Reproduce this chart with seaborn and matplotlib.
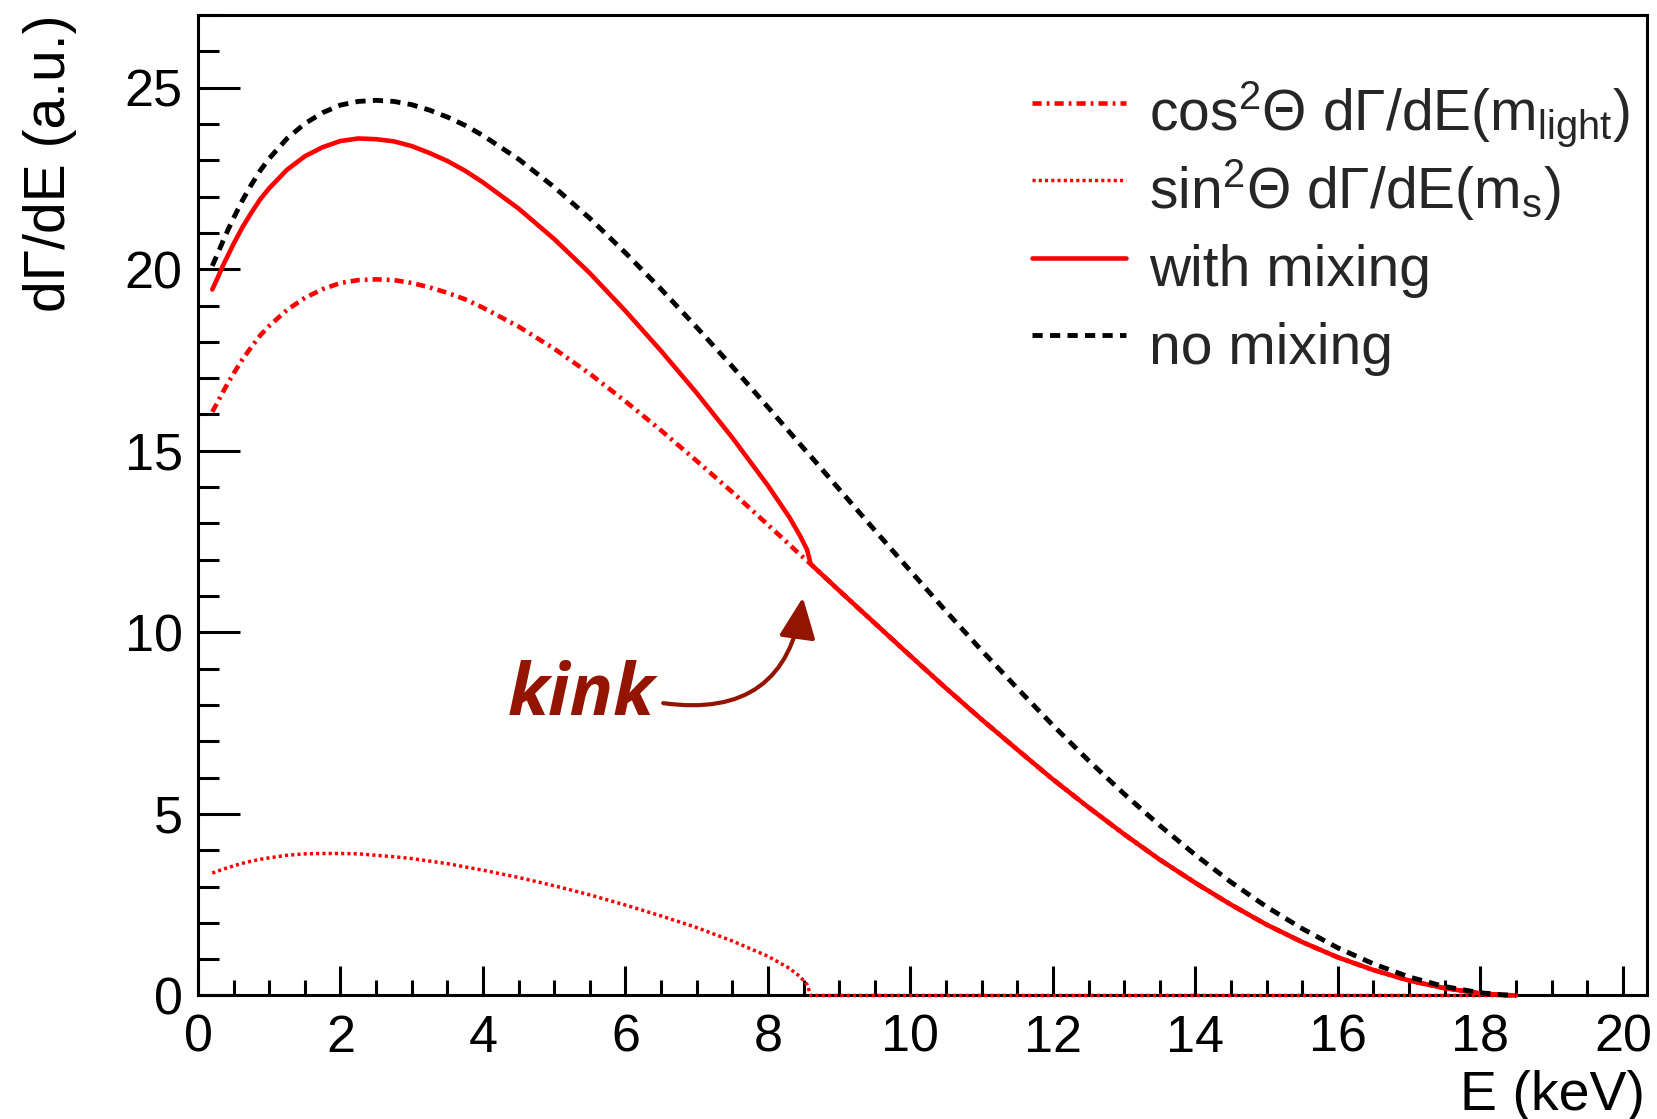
import matplotlib
matplotlib.use("Agg")
import matplotlib.pyplot as plt
import numpy as np
import pandas as pd
import seaborn as sns
from matplotlib.ticker import MultipleLocator

# ---------------- data ----------------
energy = [0.2, 0.275, 0.35, 0.425, 0.5, 0.625, 0.75, 0.875, 1.0,
          1.25, 1.5, 1.75, 2.0, 2.25, 2.5, 2.75, 3.0, 3.25, 3.5, 3.75, 4.0,
          4.5, 5.0, 5.5, 6.0, 6.5, 7.0, 7.5, 8.0,
          8.3, 8.45, 8.55, 8.6,
          9.0, 9.5, 10.0, 10.5, 11.0, 11.5, 12.0, 12.5, 13.0, 13.5, 14.0, 14.5,
          15.0, 15.5, 16.0, 16.5, 17.0, 17.5, 18.0,
          18.3, 18.5]

no_mixing = [20.09, 20.42, 20.77, 21.10, 21.41, 21.90, 22.33, 22.72, 23.05,
             23.60, 24.01, 24.31, 24.52, 24.62, 24.65, 24.62, 24.53, 24.38, 24.19, 23.96, 23.68,
             23.03, 22.26, 21.40, 20.45, 19.45, 18.40, 17.32, 16.20,
             15.52, 15.18, 14.96, 14.85,
             13.94, 12.81, 11.69, 10.58, 9.50, 8.46, 7.44, 6.47, 5.55, 4.68, 3.87, 3.12,
             2.44, 1.84, 1.31, 0.87, 0.51, 0.245, 0.074,
             0.019, 0.0]

cos2_light = [16.07, 16.34, 16.62, 16.88, 17.13, 17.52, 17.86, 18.18, 18.44,
              18.88, 19.21, 19.45, 19.62, 19.70, 19.72, 19.70, 19.62, 19.50, 19.35, 19.17, 18.94,
              18.42, 17.81, 17.12, 16.36, 15.56, 14.72, 13.86, 12.96,
              12.42, 12.14, 11.97, 11.88,
              11.15, 10.25, 9.35, 8.46, 7.60, 6.77, 5.95, 5.18, 4.44, 3.74, 3.10, 2.50,
              1.95, 1.47, 1.05, 0.70, 0.41, 0.20, 0.06,
              0.015, 0.0]

sin2_heavy = [3.37, 3.42, 3.48, 3.52, 3.57, 3.64, 3.70, 3.75, 3.79,
              3.86, 3.90, 3.91, 3.91, 3.90, 3.86, 3.82, 3.77, 3.70, 3.63, 3.54, 3.45,
              3.25, 3.02, 2.77, 2.49, 2.19, 1.87, 1.50, 1.08,
              0.75, 0.52, 0.30, 0.0,
              0.0, 0.0, 0.0, 0.0, 0.0, 0.0, 0.0, 0.0, 0.0, 0.0, 0.0, 0.0,
              0.0, 0.0, 0.0, 0.0, 0.0, 0.0, 0.0,
              0.0, 0.0]

with_mixing = [19.44, 19.76, 20.10, 20.40, 20.70, 21.16, 21.56, 21.93, 22.23,
               22.74, 23.11, 23.36, 23.53, 23.60, 23.58, 23.52, 23.39, 23.20, 22.98, 22.71, 22.39,
               21.67, 20.83, 19.89, 18.85, 17.75, 16.59, 15.36, 14.04,
               13.17, 12.66, 12.27, 11.88,
               11.15, 10.25, 9.35, 8.46, 7.60, 6.77, 5.95, 5.18, 4.44, 3.74, 3.10, 2.50,
               1.95, 1.47, 1.05, 0.70, 0.41, 0.20, 0.06,
               0.015, 0.0]

series_labels = [r"cos$^{2}$Θ dΓ/dE(m$_{\mathrm{light}}$)",
                 r"sin$^{2}$Θ dΓ/dE(m$_{\mathrm{s}}$)",
                 "with mixing",
                 "no mixing"]

x_ticks = [0, 2, 4, 6, 8, 10, 12, 14, 16, 18, 20]
y_ticks = [0, 5, 10, 15, 20, 25]
x_title = "E (keV)"
y_title = "dΓ/dE (a.u.)"
annotation_text = "kink"
kink_label_pos = (4.34, 7.72)
arrow_tail = (6.53, 8.05)
arrow_tip = (8.49, 10.96)

# ---------------- style ----------------
sns.set_style("ticks")
plt.rcParams["font.family"] = ["Liberation Sans", "DejaVu Sans"]
plt.rcParams["mathtext.fontset"] = "custom"
plt.rcParams["mathtext.rm"] = "Liberation Sans"
plt.rcParams["mathtext.it"] = "Liberation Sans:italic"
plt.rcParams["mathtext.bf"] = "Liberation Sans:bold"

RED = "#ff0000"
KINK = "#931400"

df = pd.DataFrame({"E": energy, "no_mix": no_mixing, "cos2": cos2_light,
                   "sin2": sin2_heavy, "mix": with_mixing})

fig = plt.figure(figsize=(16.57, 11.19), dpi=100)
ax = fig.add_axes([0.1195, 0.1104, 0.8745, 0.8762])

common = dict(ax=ax, legend=False, errorbar=None, zorder=3, clip_on=False)
sns.lineplot(data=df, x="E", y="cos2", color=RED, lw=3.3,
             linestyle=(0, (2.0, 1.1, 0.6, 1.1)), label=series_labels[0], **common)
sns.lineplot(data=df, x="E", y="sin2", color=RED, lw=2.5,
             linestyle=(0, (0.9, 0.9)), label=series_labels[1], **common)
sns.lineplot(data=df, x="E", y="mix", color=RED, lw=3.3,
             linestyle="-", label=series_labels[2], **common)
sns.lineplot(data=df, x="E", y="no_mix", color="black", lw=3.5,
             linestyle=(0, (2.1, 1.5)), label=series_labels[3], **common)

ax.set_xlabel("")
ax.set_ylabel("")
ax.set_xlim(0, 20.34)
ax.set_ylim(0, 27)
ax.set_xticks(x_ticks)
ax.set_xticklabels([str(t) for t in x_ticks])
ax.set_yticks(y_ticks)
ax.set_yticklabels([str(t) for t in y_ticks])
ax.xaxis.set_minor_locator(MultipleLocator(0.5))
ax.yaxis.set_minor_locator(MultipleLocator(1))

ax.tick_params(axis="both", which="both", direction="in", top=False, right=False,
               width=2.2, color="black", labelcolor="black")
ax.tick_params(axis="x", which="major", length=21, pad=13, labelsize=37.5)
ax.tick_params(axis="x", which="minor", length=10.5)
ax.tick_params(axis="y", which="major", length=30, pad=11, labelsize=37.5)
ax.tick_params(axis="y", which="minor", length=15)
for sp in ax.spines.values():
    sp.set_linewidth(2.2)
    sp.set_color("black")
    sp.set_visible(True)

# legend
h, l = ax.get_legend_handles_labels()
hd = dict(zip(l, h))
ax.legend(handles=[hd[s] for s in series_labels], labels=series_labels,
          loc="upper left", bbox_to_anchor=(0.5756, 0.9395), frameon=False,
          fontsize=41, handlelength=1.65, handletextpad=0.4, handleheight=1.713,
          labelspacing=0.0, borderpad=0, borderaxespad=0)

# axis titles
fig.text(50 / 1657, 1 - 15 / 1119, y_title, rotation=90, ha="center", va="top",
         fontsize=41, color="black")
fig.text(1645 / 1657, 1 - 1110 / 1119, x_title, ha="right", va="baseline",
         fontsize=40, color="black")

# kink annotation
ax.text(kink_label_pos[0], kink_label_pos[1], annotation_text, fontsize=52,
        fontfamily="Open Sans", fontweight="bold", fontstyle="italic",
        color=KINK, ha="left", va="baseline", zorder=5)
ax.annotate("", xy=arrow_tip, xytext=arrow_tail,
            arrowprops=dict(arrowstyle="-|>,head_length=1.0,head_width=0.45",
                            connectionstyle="arc3,rad=0.5", color=KINK, lw=3.0,
                            shrinkA=0, shrinkB=0, mutation_scale=25),
            zorder=5)

fig.savefig("out.png", dpi=100)
